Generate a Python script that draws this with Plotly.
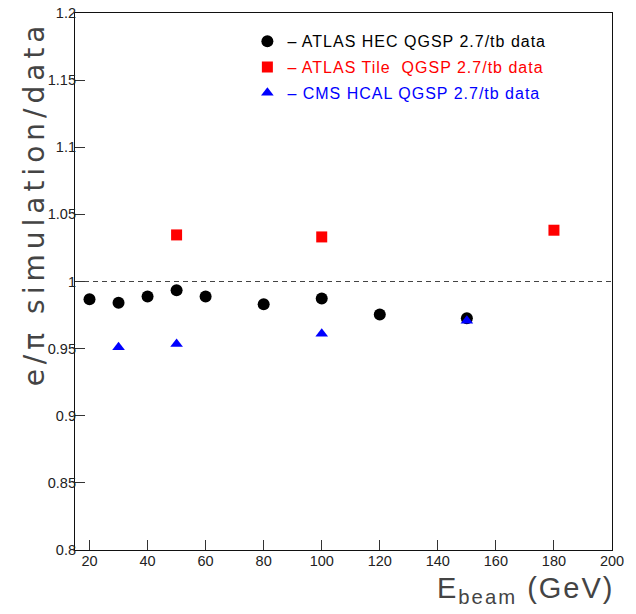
import plotly.graph_objects as go

# ---- data ----
hec_energy = [20, 30, 40, 50, 60, 80, 100, 120, 150]
hec_ratio = [0.9868, 0.9841, 0.9888, 0.9935, 0.9888, 0.9831, 0.9873, 0.9754, 0.9727]

tile_energy = [50, 100, 180]
tile_ratio = [1.0347, 1.0332, 1.0382]

cms_energy = [30, 50, 100, 150]
cms_ratio = [0.9510, 0.9535, 0.9610, 0.9708]

reference_ratio = 1.0

x_ticks = [20, 40, 60, 80, 100, 120, 140, 160, 180, 200]
y_ticks = [0.8, 0.85, 0.9, 0.95, 1.0, 1.05, 1.1, 1.15, 1.2]
y_tick_text = ["0.8", "0.85", "0.9", "0.95", "1", "1.05", "1.1", "1.15", "1.2"]

hec_name = "<span style='color:#000000;letter-spacing:1px'>– ATLAS HEC QGSP 2.7/tb data</span>"
tile_name = "<span style='color:#ff0000;letter-spacing:1px'>– ATLAS Tile  QGSP 2.7/tb data</span>"
cms_name = "<span style='color:#0000ff;letter-spacing:1px'>– CMS HCAL QGSP 2.7/tb data</span>"

FONT = "Liberation Sans, Arial, sans-serif"

fig = go.Figure()
fig.add_trace(go.Scatter(x=hec_energy, y=hec_ratio, mode="markers", name=hec_name,
                         legendgroup="a",
                         marker=dict(symbol="circle", size=12, color="#000000")))
fig.add_trace(go.Scatter(x=tile_energy, y=tile_ratio, mode="markers", name=tile_name,
                         legendgroup="b",
                         marker=dict(symbol="square", size=11, color="#ff0000")))
fig.add_trace(go.Scatter(x=cms_energy, y=cms_ratio, mode="markers", name=cms_name,
                         legendgroup="c",
                         marker=dict(symbol="triangle-up", size=11, color="#0000ff")))

fig.add_shape(type="line", xref="paper", yref="y", x0=0, x1=1,
              y0=reference_ratio, y1=reference_ratio,
              line=dict(color="#444444", width=1, dash="5px,4px"), layer="below")

axis_common = dict(showgrid=False, zeroline=False, showline=True, mirror=True,
                   linecolor="#111111", linewidth=1.2, ticks="inside", ticklen=10,
                   tickcolor="#333333", tickwidth=1, ticklabeloverflow="allow",
                   automargin=False,
                   tickfont=dict(family=FONT, size=14.5, color="#222222"))

fig.update_xaxes(range=[15, 200], tickvals=x_ticks, ticklabelstandoff=-3, **axis_common)
fig.update_yaxes(range=[0.8, 1.2], tickvals=y_ticks, ticktext=y_tick_text,
                 ticklabelstandoff=-5, **axis_common)

fig.add_annotation(xref="paper", yref="paper", x=-0.075, y=0.645,
                   text="<span style='letter-spacing:5px'>e/π simulation/data</span>",
                   textangle=-90, showarrow=False, xanchor="center", yanchor="middle",
                   font=dict(family="DejaVu Sans, sans-serif", size=28, color="#444444"))
fig.add_annotation(xref="paper", yref="paper", x=0.838, y=-0.075,
                   text="<span style='letter-spacing:2px'>E<sub>beam</sub> (GeV)</span>",
                   showarrow=False, xanchor="center", yanchor="middle",
                   font=dict(family=FONT, size=29, color="#444444"))

fig.update_layout(
    width=628, height=606,
    margin=dict(l=67, r=24, t=5, b=64, autoexpand=False),
    paper_bgcolor="white", plot_bgcolor="white",
    showlegend=True,
    legend=dict(x=0.321, y=0.979, xanchor="left", yanchor="top",
                bgcolor="rgba(0,0,0,0)", borderwidth=0,
                font=dict(family=FONT, size=16), tracegroupgap=2,
                itemclick=False),
)

fig.write_html("out.html")
